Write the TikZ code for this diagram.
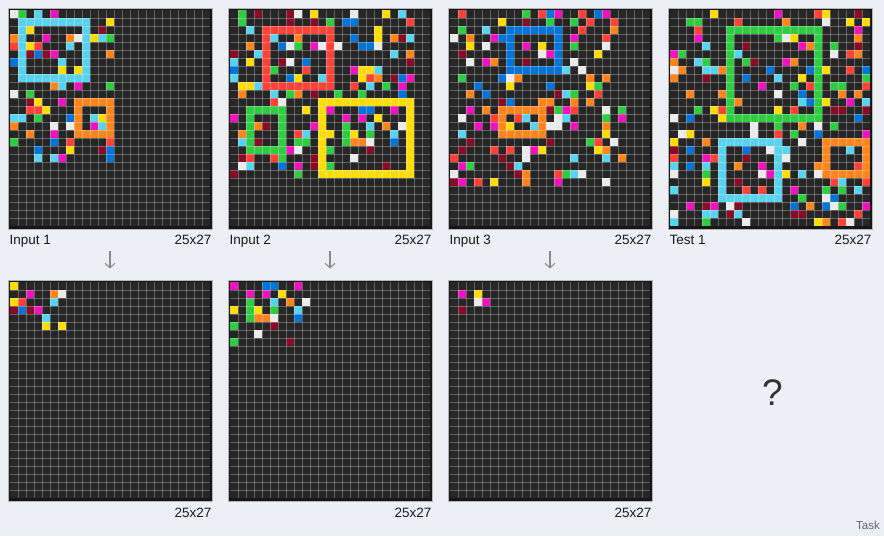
\documentclass[tikz,border=0pt]{standalone}
\usepackage{fontspec}
\setmainfont{Liberation Sans}
\usetikzlibrary{arrows.meta}
\definecolor{bgc}{HTML}{EEEEF5}
\definecolor{panelc}{HTML}{161616}
\definecolor{cellc}{HTML}{262626}
\definecolor{cB}{HTML}{0074D9}
\definecolor{cR}{HTML}{FF4136}
\definecolor{cG}{HTML}{2ECC40}
\definecolor{cY}{HTML}{FFDC00}
\definecolor{cM}{HTML}{F012BE}
\definecolor{cO}{HTML}{FF851B}
\definecolor{cC}{HTML}{58D3EF}
\definecolor{cD}{HTML}{870C25}
\definecolor{cW}{HTML}{EAEAEA}
\definecolor{txt}{HTML}{1A1A1A}
\definecolor{arrc}{HTML}{8A8A8A}
\newcommand\gx{0}
\newcommand\gy{0}
\newcommand\crow[2]{\foreach \cx/\cw/\ck in {#2}{\fill[fill=\ck] ({\gx+8*\cx},{\gy+8*#1}) rectangle ++({8*\cw},8);}}
\newcommand\panelbg[2]{%
  \fill[panelc,draw=gray!60,line width=0.5pt] (#1,#2) rectangle ++(204,221);
  \fill[cellc] ({#1+2},{#2+2}) rectangle ++(200,216);
  \renewcommand\gx{#1+2}\renewcommand\gy{#2+2}}
\newcommand\gridlines{%
  \foreach \i in {1,...,24}{\draw[gl] ({\gx+8*\i},{\gy}) -- ++(0,216);}
  \foreach \j in {1,...,26}{\draw[gl] ({\gx},{\gy+8*\j}) -- ++(200,0);}}
\tikzset{
  gl/.style={white,opacity=0.28,line width=0.8pt},
  lbl/.style={inner sep=0pt,font=\fontsize{13.5}{16}\selectfont,text=txt},
  downarrow/.style={arrc,line width=1.1pt,-{Straight Barb[length=4.5pt,width=10pt,line width=1.1pt]}}
}
\begin{document}
\begin{tikzpicture}[x=1pt,y=-1pt]
\fill[bgc] (0,0) rectangle (884,536);
\useasboundingbox (0,0) rectangle (884,536);

% ---------- Input 1 ----------
\panelbg{8}{8}
\crow{0}{0/1/cW,1/1/cG,3/1/cC,5/1/cM}
\crow{1}{1/9/cC,12/1/cY}
\crow{2}{1/1/cC,2/1/cY,9/1/cC,11/1/cD}
\crow{3}{0/1/cO,1/1/cC,4/1/cM,7/1/cO,8/1/cW,9/1/cC,10/1/cY,11/1/cC,12/1/cG}
\crow{4}{0/1/cR,1/1/cC,2/1/cY,3/1/cR,7/1/cC,9/1/cC}
\crow{5}{1/1/cC,2/1/cD,3/1/cB,4/1/cD,5/1/cM,9/1/cC,12/1/cO}
\crow{6}{0/1/cB,1/1/cC,6/1/cC,9/1/cC}
\crow{7}{1/1/cC,6/1/cY,8/1/cY,9/1/cC}
\crow{8}{1/9/cC}
\crow{9}{5/1/cO,6/1/cC,8/1/cM,12/1/cG}
\crow{10}{0/1/cW,2/1/cG}
\crow{11}{2/1/cD,3/1/cY,6/1/cM,8/5/cO}
\crow{12}{2/2/cR,4/1/cY,8/1/cO,12/1/cO}
\crow{13}{0/2/cC,3/1/cG,7/1/cB,8/1/cO,10/1/cC,11/1/cY,12/1/cO}
\crow{14}{0/1/cO,5/1/cW,7/1/cW,8/1/cO,10/1/cM,11/1/cC,12/1/cO}
\crow{15}{2/1/cO,5/1/cM,8/5/cO}
\crow{16}{0/1/cG,5/1/cB,7/1/cR,12/1/cR}
\crow{17}{3/1/cB,7/1/cY,11/1/cD,12/1/cB}
\crow{18}{3/1/cC,5/1/cC,6/1/cM,12/1/cB}
\gridlines

% ---------- Input 2 ----------
\panelbg{228}{8}
\crow{0}{1/1/cG,3/1/cD,7/1/cD,8/1/cW,10/1/cY,15/1/cW,19/1/cY,21/1/cC}
\crow{1}{1/1/cG,7/1/cD,10/1/cD,12/1/cG,14/2/cB,22/1/cR}
\crow{2}{2/1/cC,4/9/cR,18/1/cY}
\crow{3}{4/1/cR,5/1/cC,8/1/cO,12/1/cR,15/1/cB,18/1/cY,20/1/cO,21/1/cD,22/1/cC}
\crow{4}{2/1/cO,4/1/cR,6/1/cB,7/1/cW,8/1/cG,10/1/cM,11/1/cW,12/1/cR,13/1/cW,16/2/cB,18/1/cW}
\crow{5}{0/1/cD,3/1/cC,4/1/cR,12/1/cR,20/1/cC,22/1/cO}
\crow{6}{0/1/cC,2/1/cY,4/1/cR,6/1/cD,7/1/cW,9/1/cB,12/1/cR,22/1/cD}
\crow{7}{0/1/cB,4/1/cR,5/1/cG,9/1/cR,12/1/cR,15/1/cM,16/2/cY,18/1/cC}
\crow{8}{0/1/cC,4/1/cR,7/1/cB,8/1/cY,11/1/cC,12/1/cR,16/1/cY,17/1/cR,18/1/cO,20/1/cD,21/1/cB,22/1/cM}
\crow{9}{1/2/cY,3/1/cC,4/9/cR,15/1/cR,17/1/cC,19/1/cG,21/1/cM}
\crow{10}{1/1/cO,5/1/cC,7/1/cG,8/1/cO,10/1/cD,13/1/cG,16/1/cG,21/1/cB}
\crow{11}{5/1/cR,6/1/cW,11/12/cY}
\crow{12}{2/5/cG,9/1/cY,11/1/cY,12/1/cM,16/2/cB,20/1/cM,22/1/cY}
\crow{13}{0/1/cM,2/1/cG,6/1/cG,11/1/cY,14/1/cM,16/1/cM,18/1/cY,22/1/cY}
\crow{14}{2/1/cG,3/1/cO,4/1/cD,6/1/cG,10/1/cM,11/1/cY,14/1/cG,17/1/cC,19/1/cO,21/1/cW,22/1/cY}
\crow{15}{1/1/cO,2/1/cG,6/1/cG,8/1/cR,9/1/cC,11/2/cY,14/1/cG,15/1/cY,17/1/cG,20/1/cC,22/1/cY}
\crow{16}{1/1/cC,2/1/cG,3/1/cD,6/1/cG,8/2/cG,11/1/cY,14/1/cG,15/2/cO,17/1/cW,20/1/cB,22/1/cY}
\crow{17}{2/5/cG,7/1/cM,8/1/cW,11/1/cY,12/1/cG,17/1/cD,22/1/cY}
\crow{18}{1/1/cD,2/1/cR,5/1/cR,6/1/cG,10/1/cD,11/1/cY,15/1/cW,22/1/cY}
\crow{19}{1/1/cW,2/1/cC,6/1/cB,8/1/cM,10/1/cD,11/1/cY,12/1/cG,19/1/cD,22/1/cY}
\crow{20}{0/1/cD,8/1/cG,11/12/cY}
\gridlines

% ---------- Input 3 ----------
\panelbg{448}{8}
\crow{0}{1/1/cR,9/1/cG,11/1/cR,12/1/cB,13/1/cM,16/1/cR,18/1/cB,19/1/cM}
\crow{1}{6/1/cY,9/1/cD,12/1/cG,15/1/cG,17/1/cR,20/1/cR}
\crow{2}{1/1/cG,4/1/cC,7/7/cB,16/1/cR,20/1/cO}
\crow{3}{0/1/cW,2/1/cO,5/1/cM,6/2/cB,13/1/cB,15/1/cM,19/1/cR}
\crow{4}{2/1/cY,4/1/cW,7/1/cB,9/1/cM,11/1/cY,13/1/cB,15/1/cG,19/1/cW}
\crow{5}{1/1/cD,7/1/cB,11/1/cW,12/1/cM,13/1/cB,18/1/cY}
\crow{6}{2/1/cW,4/1/cM,5/1/cO,7/1/cB,9/1/cD,13/1/cB,15/1/cW}
\crow{7}{7/7/cB,14/1/cC,16/1/cW}
\crow{8}{1/1/cG,6/1/cB,7/1/cW,8/1/cO,17/1/cO,19/1/cO}
\crow{9}{3/1/cB,7/1/cY,12/1/cB,17/1/cY,18/1/cG}
\crow{10}{2/1/cO,4/1/cB,13/1/cD,14/1/cC,15/1/cG,18/1/cR}
\crow{11}{6/1/cD,7/1/cB,11/2/cO,15/1/cO,17/1/cO}
\crow{12}{2/1/cM,4/1/cO,6/6/cO,12/1/cD,13/1/cG,14/1/cM,15/1/cR,19/1/cW,21/1/cG}
\crow{13}{1/1/cW,5/1/cR,6/1/cO,8/1/cR,9/1/cC,11/1/cO,13/1/cW,14/1/cC,19/1/cG,21/1/cM}
\crow{14}{3/1/cM,5/1/cM,6/1/cO,7/1/cY,10/1/cC,11/1/cO,12/2/cW,15/1/cM,19/1/cO}
\crow{15}{1/1/cC,6/6/cO,19/1/cY}
\crow{16}{2/1/cD,12/1/cD,17/1/cG,18/1/cR,20/1/cW}
\crow{17}{1/1/cD,5/1/cR,7/1/cR,9/1/cW,10/1/cM,11/1/cY,18/1/cY,19/1/cO}
\crow{18}{0/1/cR,6/1/cD,9/1/cW,15/1/cC,19/1/cC,21/1/cO}
\crow{19}{1/1/cM,2/1/cG,7/1/cD,8/1/cC}
\crow{20}{0/1/cW,8/1/cD,9/1/cO,13/1/cR,14/1/cG,15/1/cC,16/1/cW}
\crow{21}{0/1/cD,1/1/cM,3/1/cR,5/1/cY,9/1/cO,13/1/cM,19/1/cW}
\gridlines

% ---------- Test 1 ----------
\panelbg{668}{8}
\crow{0}{5/1/cY,13/1/cM,18/1/cR,19/1/cY,23/1/cD}
\crow{1}{2/2/cG,8/1/cR,14/1/cO,19/1/cW,22/1/cY,24/1/cY}
\crow{2}{3/1/cR,7/12/cG,23/1/cM}
\crow{3}{3/1/cM,7/1/cG,13/1/cG,14/1/cW,15/1/cY,18/1/cG,23/1/cO}
\crow{4}{4/1/cC,7/1/cG,9/1/cD,16/1/cM,17/1/cO,18/1/cG,20/1/cG,23/1/cD}
\crow{5}{0/1/cM,1/1/cG,7/1/cG,8/1/cC,18/1/cG,20/1/cW,22/1/cR,23/1/cO}
\crow{6}{0/1/cO,3/1/cC,4/1/cG,7/1/cG,9/1/cG,10/1/cD,14/1/cM,15/1/cO,18/1/cG}
\crow{7}{0/1/cW,1/1/cO,4/2/cC,6/1/cO,7/1/cG,12/1/cB,17/1/cB,18/1/cG,19/1/cY,22/1/cR,24/1/cB}
\crow{8}{0/1/cO,4/1/cD,7/1/cG,9/1/cB,13/1/cC,16/1/cY,18/1/cG,24/1/cG}
\crow{9}{7/1/cG,11/1/cM,15/1/cG,17/1/cR,18/1/cG,20/2/cG,24/1/cR}
\crow{10}{2/1/cO,6/1/cO,7/1/cG,13/1/cW,16/1/cB,18/1/cG,21/1/cO,23/1/cO}
\crow{11}{7/1/cG,8/1/cO,16/1/cC,17/1/cB,18/1/cG,19/1/cY,22/1/cM,24/1/cC}
\crow{12}{3/1/cG,5/1/cY,6/1/cR,7/1/cG,13/1/cY,15/1/cR,18/1/cG,20/2/cD,24/1/cD}
\crow{13}{0/1/cW,2/1/cB,6/1/cY,7/12/cG,23/1/cB}
\crow{14}{10/1/cW,13/1/cG,16/1/cO,18/1/cW,20/1/cG}
\crow{15}{1/1/cW,2/1/cY,10/1/cW,13/1/cR,15/1/cG,18/1/cB,24/1/cM}
\crow{16}{0/1/cY,4/1/cO,6/8/cC,16/1/cW,19/6/cO}
\crow{17}{0/1/cD,2/1/cB,6/1/cC,9/1/cB,12/1/cW,13/2/cC,19/1/cO,22/1/cC,24/1/cO}
\crow{18}{0/1/cR,4/1/cM,5/1/cR,6/1/cC,9/1/cD,13/1/cC,14/1/cW,19/1/cO,24/1/cO}
\crow{19}{0/1/cC,2/1/cB,4/1/cC,6/1/cC,8/1/cO,11/1/cM,13/1/cC,18/2/cO,23/1/cR,24/1/cO}
\crow{20}{0/1/cW,4/1/cG,6/1/cC,11/1/cW,12/1/cM,13/1/cC,14/1/cY,16/1/cC,18/1/cW,19/6/cO}
\crow{21}{4/1/cY,6/1/cC,8/1/cD,13/1/cC,20/1/cR,21/1/cC,24/1/cR}
\crow{22}{0/1/cC,6/1/cC,9/1/cR,11/1/cR,13/1/cC,15/1/cM,19/1/cG,21/1/cG,23/1/cC}
\crow{23}{6/8/cC,16/1/cG,19/1/cW,20/1/cB}
\crow{24}{2/1/cM,4/1/cD,5/1/cM,7/1/cW,8/1/cD,15/1/cB,17/1/cO,19/1/cB,20/1/cW,21/1/cG,24/1/cM}
\crow{25}{0/1/cW,4/2/cC,7/1/cD,8/1/cC,15/2/cD,23/1/cR}
\crow{26}{0/1/cC,4/1/cG,9/1/cW,18/1/cY,19/1/cO,21/1/cR,22/1/cW}
\gridlines

% ---------- Output 1 ----------
\panelbg{8}{280}
\crow{0}{0/1/cY}
\crow{1}{2/1/cM,5/1/cO,6/1/cW}
\crow{2}{0/1/cY,1/1/cR,5/1/cC}
\crow{3}{0/1/cD,1/1/cB,2/1/cD,3/1/cM}
\crow{4}{4/1/cC}
\crow{5}{4/1/cY,6/1/cY}
\gridlines

% ---------- Output 2 ----------
\panelbg{228}{280}
\crow{0}{0/1/cM,4/2/cB,8/1/cM}
\crow{1}{2/1/cM,4/1/cM,6/1/cY}
\crow{2}{2/1/cG,5/1/cC,7/1/cO,9/1/cW}
\crow{3}{0/1/cY,2/1/cG,3/1/cY,5/1/cG,8/1/cC}
\crow{4}{2/1/cG,3/2/cO,5/1/cW,8/1/cB}
\crow{5}{0/1/cG,5/1/cD}
\crow{6}{3/1/cW}
\crow{7}{0/1/cG,7/1/cD}
\gridlines

% ---------- Output 3 ----------
\panelbg{448}{280}
\crow{1}{1/1/cM,3/1/cY}
\crow{2}{3/1/cW,4/1/cM}
\crow{3}{1/1/cD}
\gridlines

% ---------- labels ----------
\node[lbl,anchor=base west] (l1) at (9.5,244) {Input 1};
\node[lbl,anchor=base east] (s1) at (211.5,244) {25x27};
\node[lbl,anchor=base west] (l2) at (229.5,244) {Input 2};
\node[lbl,anchor=base east] (s2) at (431.5,244) {25x27};
\node[lbl,anchor=base west] (l3) at (449.5,244) {Input 3};
\node[lbl,anchor=base east] (s3) at (651.5,244) {25x27};
\node[lbl,anchor=base west] (l4) at (669.5,244) {Test 1};
\node[lbl,anchor=base east] (s4) at (871.5,244) {25x27};
\node[lbl,anchor=base east] (o1) at (211.5,517) {25x27};
\node[lbl,anchor=base east] (o2) at (431.5,517) {25x27};
\node[lbl,anchor=base east] (o3) at (651.5,517) {25x27};

% ---------- arrows ----------
\coordinate (a1s) at (110,251); \coordinate (a1e) at (110,268.5);
\coordinate (a2s) at (330,251); \coordinate (a2e) at (330,268.5);
\coordinate (a3s) at (550,251); \coordinate (a3e) at (550,268.5);
\draw[downarrow] (a1s) -- (a1e);
\draw[downarrow] (a2s) -- (a2e);
\draw[downarrow] (a3s) -- (a3e);

% ---------- question mark and footer ----------
\node[inner sep=0pt,font=\fontsize{37}{40}\selectfont,text=black!80] (q) at (772.5,392.5) {?};
\node[inner sep=0pt,anchor=base east,font=\fontsize{11.5}{13}\selectfont,text=black!60] (task) at (880,529) {Task};
\end{tikzpicture}
\end{document}
